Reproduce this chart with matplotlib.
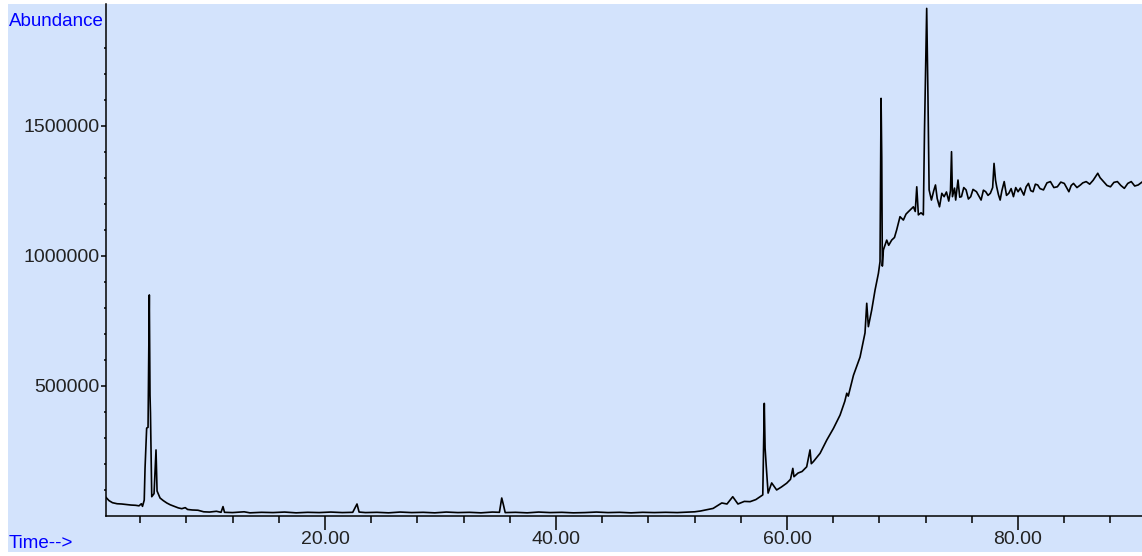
"""
Total ion chromatogram, drawn in the style of a ChemStation data window.
"""
import matplotlib.pyplot as plt
from matplotlib.patches import Rectangle
from matplotlib.ticker import FixedLocator, FuncFormatter

# solvent front and early peaks
time_early = [1.05, 1.3, 1.6, 2.0, 2.4, 2.8, 3.2, 3.6, 3.9, 4.1, 4.2, 4.35,
              4.42, 4.56, 4.68, 4.79, 4.85, 4.89, 5.0, 5.2, 5.37, 5.46, 5.6,
              5.72, 6.0, 6.3, 6.6, 7.0, 7.3, 7.6, 7.9, 8.1, 8.5, 9.0, 9.5,
              10.0, 10.6, 11.0, 11.17]
abund_early = [70000, 58000, 50000, 46000, 45000, 43000, 41000, 40000, 38000,
               46000, 36000, 60000, 183000, 337000, 340000, 849000, 464000,
               395000, 73000, 85000, 253000, 95000, 80000, 68000, 58000, 49000,
               42000, 35000, 30000, 27000, 31000, 24000, 22000, 21000, 15000,
               14000, 17000, 13000, 35000]

# flat baseline
time_base = [11.3, 12.0, 13.0, 13.5, 14.5, 15.5, 16.5, 17.5, 18.5, 19.5,
             20.5, 21.5, 22.4, 22.77, 22.95, 23.5, 24.5, 25.5, 26.5, 27.5,
             28.5, 29.5, 30.5, 31.5, 32.5, 33.5, 34.5, 35.1, 35.3, 35.45,
             35.6, 36.5, 37.5, 38.5, 39.5, 40.5, 41.5, 42.5, 43.5, 44.5,
             45.5, 46.5, 47.5, 48.5, 49.5, 50.5, 51.5, 52.0]
abund_base = [13000, 12000, 15000, 11000, 13000, 12000, 14000, 11000, 13000,
              12000, 14000, 12000, 13000, 45000, 14000, 12000, 13000, 11000,
              14000, 12000, 13000, 11000, 14000, 12000, 13000, 11000, 14000,
              13000, 68000, 41000, 12000, 13000, 11000, 14000, 12000, 13000,
              11000, 12000, 14000, 12000, 13000, 11000, 13000, 12000, 13000,
              12000, 14000, 15000]

# column bleed ramp
time_ramp = [52.5, 53.6, 54.35, 54.8, 55.3, 55.75, 56.3, 56.8, 57.3, 57.66,
             57.9, 58.03, 58.1, 58.2, 58.36, 58.67, 59.1, 59.5, 59.97, 60.3,
             60.5, 60.6, 60.95, 61.3, 61.7, 61.99, 62.1, 62.28, 62.86, 63.44,
             64.02, 64.59, 65.0, 65.17, 65.3, 65.75, 66.32, 66.75, 66.9,
             67.04, 67.33, 67.62, 67.91, 68.05, 68.14, 68.2, 68.25, 68.34,
             68.63, 68.8, 69.06, 69.3, 69.49, 69.78, 70.07, 70.3, 70.5, 70.94,
             71.1, 71.23, 71.37, 71.6, 71.8, 71.9, 72.09, 72.2]
abund_ramp = [18000, 28000, 49000, 45000, 73000, 45000, 55000, 54000, 62000,
              73000, 80000, 432000, 260000, 190000, 87000, 126000, 99000,
              110000, 125000, 140000, 182000, 150000, 164000, 170000, 188000,
              253000, 200000, 208000, 240000, 291000, 336000, 387000, 440000,
              471000, 460000, 540000, 610000, 703000, 817000, 727000, 791000,
              868000, 932000, 977000, 1605000, 1376000, 960000, 1022000,
              1060000, 1040000, 1060000, 1070000, 1099000, 1150000, 1137000,
              1160000, 1169000, 1188000, 1170000, 1265000, 1157000, 1165000,
              1157000, 1480000, 1951000, 1611000]

# high-temperature plateau
time_plateau = [72.3, 72.5, 72.7, 72.85, 73.0, 73.2, 73.4, 73.6, 73.8, 74.0,
                74.15, 74.24, 74.32, 74.5, 74.6, 74.8, 74.95, 75.1, 75.3,
                75.5, 75.7, 75.9, 76.1, 76.4, 76.6, 76.8, 77.0, 77.2, 77.4,
                77.6, 77.8, 77.92, 78.05, 78.15, 78.3, 78.45, 78.6, 78.8,
                79.0, 79.2, 79.4, 79.6, 79.8, 80.0, 80.2, 80.5, 80.7, 80.9,
                81.1, 81.3, 81.5, 81.7, 81.9, 82.2, 82.5, 82.8, 83.1, 83.4,
                83.7, 84.0, 84.2, 84.4, 84.6, 84.8, 85.1, 85.4, 85.6, 85.9,
                86.2, 86.5, 86.9, 87.1, 87.4, 87.7, 88.0, 88.3, 88.6, 88.9,
                89.2, 89.5, 89.8, 90.1, 90.4, 90.73]
abund_plateau = [1253000, 1214000, 1250000, 1272000, 1220000, 1188000,
                 1240000, 1227000, 1245000, 1210000, 1250000, 1400000,
                 1227000, 1260000, 1214000, 1291000, 1225000, 1227000,
                 1262000, 1253000, 1218000, 1227000, 1255000, 1246000,
                 1230000, 1214000, 1252000, 1246000, 1232000, 1240000,
                 1262000, 1355000, 1290000, 1265000, 1235000, 1214000,
                 1250000, 1285000, 1232000, 1240000, 1258000, 1227000,
                 1262000, 1246000, 1260000, 1233000, 1265000, 1278000,
                 1250000, 1246000, 1275000, 1272000, 1258000, 1253000,
                 1280000, 1285000, 1262000, 1265000, 1283000, 1278000,
                 1262000, 1246000, 1270000, 1278000, 1262000, 1272000,
                 1280000, 1285000, 1275000, 1290000, 1317000, 1300000,
                 1285000, 1270000, 1265000, 1282000, 1285000, 1270000,
                 1259000, 1278000, 1285000, 1268000, 1272000, 1283000]

x_major = [20, 40, 60, 80]
x_minor = [4, 8, 12, 16, 24, 28, 32, 36, 44, 48, 52, 56, 64, 68, 72, 76,
           84, 88]
y_major = [500000, 1000000, 1500000]
y_minor = [100000, 200000, 300000, 400000, 600000, 700000, 800000, 900000,
           1100000, 1200000, 1300000, 1400000, 1600000, 1700000, 1800000]

BG = "#d3e3fc"
W, H = 1142, 556


def plot_tic():
    plt.rcParams["font.family"] = ["Liberation Sans", "DejaVu Sans"]
    fig = plt.figure(figsize=(W / 100, H / 100), dpi=100, facecolor="white")
    fig.patches.append(Rectangle((8 / W, 4 / H), 1 - 8 / W, 548 / H,
                                 transform=fig.transFigure, facecolor=BG,
                                 edgecolor="none", zorder=-10))

    ax = fig.add_axes([106 / W, 1 - 515.7 / H, 1 - 106 / W, 511.7 / H])
    ax.set_facecolor(BG)

    t = time_early + time_base + time_ramp + time_plateau
    a = abund_early + abund_base + abund_ramp + abund_plateau
    ax.plot(t, a, color="black", lw=1.2)

    ax.set_xlim(1.04, 90.73)
    ax.set_ylim(0, 1968000)

    for side in ("top", "right"):
        ax.spines[side].set_visible(False)
    for side in ("left", "bottom"):
        ax.spines[side].set_linewidth(1.1)

    ax.xaxis.set_major_locator(FixedLocator(x_major))
    ax.xaxis.set_minor_locator(FixedLocator(x_minor))
    ax.yaxis.set_major_locator(FixedLocator(y_major))
    ax.yaxis.set_minor_locator(FixedLocator(y_minor))
    ax.xaxis.set_major_formatter(FuncFormatter(lambda v, p: "%.2f" % v))
    ax.yaxis.set_major_formatter(FuncFormatter(lambda v, p: "%d" % v))

    ax.tick_params(axis="x", which="major", length=10, width=1.1, pad=1,
                   labelsize=14, labelcolor="#222222")
    ax.tick_params(axis="x", which="minor", length=5, width=1.1)
    ax.tick_params(axis="y", which="major", length=3.6, width=1.1, pad=1,
                   labelsize=14, labelcolor="#222222")
    ax.tick_params(axis="y", which="minor", length=1.8, width=1.1)

    fig.text(9 / W, 1 - 26 / H, "Abundance", color="#0000ff", fontsize=13.5,
             va="baseline", ha="left")
    fig.text(9 / W, 1 - 548 / H, "Time-->", color="#0000ff", fontsize=13.5,
             va="baseline", ha="left")

    fig.savefig("out.png", dpi=100, facecolor="white")


if __name__ == "__main__":
    plot_tic()
